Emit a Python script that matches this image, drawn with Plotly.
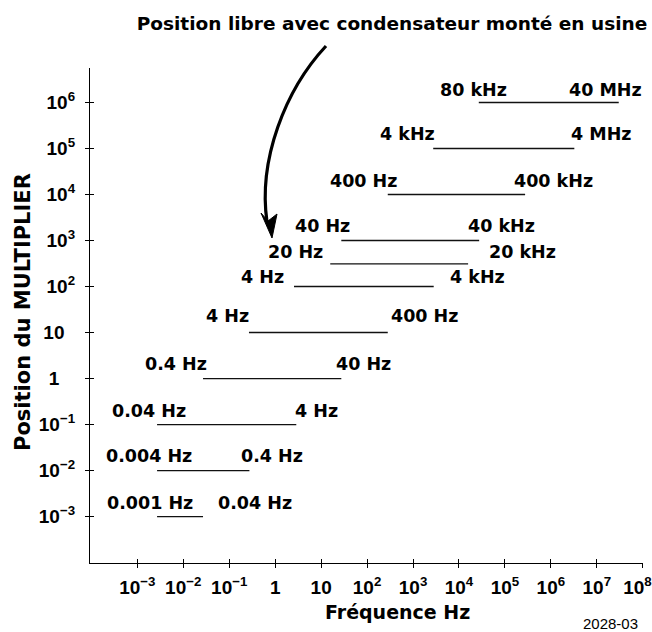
import math
import plotly.graph_objects as go

# ---------------- data ----------------
multiplier_position = [1e6, 1e5, 1e4, 1e3, 310, 100, 10, 1, 0.1, 0.01, 0.001]
start_hz = [2.7e4, 2750, 282, 27.5, 15.8, 2.57, 0.269, 0.0269, 0.00269, 0.00269, 0.00269]
stop_hz = [3.0e7, 3.24e6, 2.75e5, 2.75e4, 1.58e4, 2820, 282, 27.5, 2.88, 0.275, 0.0269]
low_label = ["80 kHz", "4 kHz", "400 Hz", "40 Hz", "20 Hz", "4 Hz", "4 Hz",
             "0.4 Hz", "0.04 Hz", "0.004 Hz", "0.001 Hz"]
high_label = ["40 MHz", "4 MHz", "400 kHz", "40 kHz", "20 kHz", "4 kHz", "400 Hz",
              "40 Hz", "4 Hz", "0.4 Hz", "0.04 Hz"]

x_tickvals = [1e-3, 1e-2, 1e-1, 1, 10, 1e2, 1e3, 1e4, 1e5, 1e6, 1e7, 1e8]
x_ticktext = ["10<sup>−3</sup>", "10<sup>−2</sup>", "10<sup>−1</sup>", "1", "10",
              "10<sup>2</sup>", "10<sup>3</sup>", "10<sup>4</sup>", "10<sup>5</sup>",
              "10<sup>6</sup>", "10<sup>7</sup>", "10<sup>8</sup>\u00a0\u00a0"]
y_tickvals = [1e-3, 1e-2, 1e-1, 1, 10, 1e2, 1e3, 1e4, 1e5, 1e6]
y_ticktext = ["10<sup>−3</sup>", "10<sup>−2</sup>", "10<sup>−1</sup>",
              "1\u00a0\u00a0\u00a0", "10\u00a0\u00a0",
              "10<sup>2</sup>", "10<sup>3</sup>", "10<sup>4</sup>", "10<sup>5</sup>",
              "10<sup>6</sup>"]

title_text = "Position libre avec condensateur monté en usine"
x_title = "Fréquence Hz"
y_title = "Position du MULTIPLIER"
figure_code = "2028-03"

# ---------------- label placement (log10 of frequency at label centre) ----------------
low_label_pos = [4.318, 2.882, 1.925, 1.033, 0.435, -0.283, -1.033, -2.164, -2.741, -2.741, -2.730]
high_label_pos = [7.19, 7.092, 6.058, 4.927, 5.373, 4.405, 3.241, 1.925, 0.903, -0.076, -0.435]
label_dy = [13, 15, 14, 15, 12, 10, 17, 14.5, 13.5, 14.5, 14]

W, H = 652, 632
L, R, T, B = 90, 9, 68, 69
PW, PH = W - L - R, H - T - B

def px(xp, yp):
    return (xp - L) / PW, (H - B - yp) / PH

seg_x, seg_y = [], []
for y, a, b in zip(multiplier_position, start_hz, stop_hz):
    seg_x += [a, b, None]
    seg_y += [y, y, None]

fig = go.Figure()
fig.add_trace(go.Scatter(x=seg_x, y=seg_y, mode="lines",
                         line=dict(color="#111111", width=1.3),
                         hoverinfo="skip", showlegend=False))
# dummy trace for overlay axes (inside tick marks)
fig.add_trace(go.Scatter(x=[1], y=[1], xaxis="x2", yaxis="y2", mode="markers",
                         marker=dict(opacity=0), hoverinfo="skip", showlegend=False))

lab_font = dict(family="DejaVu Sans", size=17.5, color="black", weight="bold")
ann = []
for i, y in enumerate(multiplier_position):
    ly = math.log10(y)
    ann.append(dict(x=low_label_pos[i], y=ly, xref="x", yref="y", text=low_label[i],
                    showarrow=False, yshift=label_dy[i], font=lab_font,
                    xanchor="center", yanchor="middle"))
    ann.append(dict(x=high_label_pos[i], y=ly, xref="x", yref="y", text=high_label[i],
                    showarrow=False, yshift=label_dy[i], font=lab_font,
                    xanchor="center", yanchor="middle"))

ax, ay = px(397, 612)
ann.append(dict(x=ax, y=ay, xref="paper", yref="paper", text=x_title, showarrow=False,
                font=dict(family="DejaVu Sans", size=19, color="black", weight="bold"),
                xanchor="center", yanchor="middle"))
ax, ay = px(22.5, 312.5)
ann.append(dict(x=ax, y=ay, xref="paper", yref="paper", text=y_title, showarrow=False,
                textangle=-90,
                font=dict(family="DejaVu Sans", size=21, color="black", weight="bold"),
                xanchor="center", yanchor="middle"))
ax, ay = px(610, 623)
ann.append(dict(x=ax, y=ay, xref="paper", yref="paper", text=figure_code, showarrow=False,
                font=dict(family="Liberation Sans", size=15, color="black"),
                xanchor="center", yanchor="middle"))

# curved arrow (decoration)
p0 = px(326, 46); c1 = px(285, 90); c2 = px(258, 160); p3 = px(267, 222)
curve = f"M {p0[0]},{p0[1]} C {c1[0]},{c1[1]} {c2[0]},{c2[1]} {p3[0]},{p3[1]}"
h1 = px(272, 238); h2 = px(261, 213); h3 = px(268, 221); h4 = px(277, 214)
head = f"M {h1[0]},{h1[1]} L {h2[0]},{h2[1]} L {h3[0]},{h3[1]} L {h4[0]},{h4[1]} Z"
shapes = [
    dict(type="path", path=curve, xref="paper", yref="paper",
         line=dict(color="black", width=3.2)),
    dict(type="path", path=head, xref="paper", yref="paper",
         line=dict(color="black", width=1), fillcolor="black"),
]

tick_font = dict(family="Liberation Sans", size=19, color="black", weight="bold")
xr = [-4.03, 8.005]
yr = [-4.01, 6.75]
fig.update_layout(
    width=W, height=H,
    margin=dict(l=L, r=R, t=T, b=B, pad=0, autoexpand=False),
    paper_bgcolor="white", plot_bgcolor="white",
    showlegend=False,
    title=dict(text=title_text, x=392 / W, xanchor="center", y=1 - 24 / H,
               yanchor="middle",
               font=dict(family="DejaVu Sans", size=18.5, color="black", weight="bold")),
    xaxis=dict(type="log", range=xr, tickvals=x_tickvals, ticktext=x_ticktext,
               showgrid=False, zeroline=False, showline=True, linecolor="black",
               linewidth=1.3, ticks="outside", ticklen=4, tickwidth=1.3,
               tickcolor="black", tickfont=tick_font, ticklabelstandoff=3,
               ticklabeloverflow="allow", automargin=False),
    yaxis=dict(type="log", range=yr, tickvals=y_tickvals, ticktext=y_ticktext,
               showgrid=False, zeroline=False, showline=True, linecolor="black",
               linewidth=1.3, ticks="outside", ticklen=4, tickwidth=1.3,
               tickcolor="black", tickfont=tick_font, ticklabelstandoff=6,
               automargin=False),
    xaxis2=dict(type="log", range=xr, overlaying="x", anchor="y", side="bottom",
                tickvals=x_tickvals, showticklabels=False, showgrid=False,
                zeroline=False, showline=False, ticks="inside", ticklen=4,
                tickwidth=1.3, tickcolor="black", automargin=False),
    yaxis2=dict(type="log", range=yr, overlaying="y", anchor="x", side="left",
                tickvals=y_tickvals, showticklabels=False, showgrid=False,
                zeroline=False, showline=False, ticks="inside", ticklen=4,
                tickwidth=1.3, tickcolor="black", automargin=False),
    annotations=ann,
    shapes=shapes,
)

fig.write_html("out.html", config={"displayModeBar": False},
               post_script="document.body.style.margin='0';document.body.style.overflow='hidden';")
